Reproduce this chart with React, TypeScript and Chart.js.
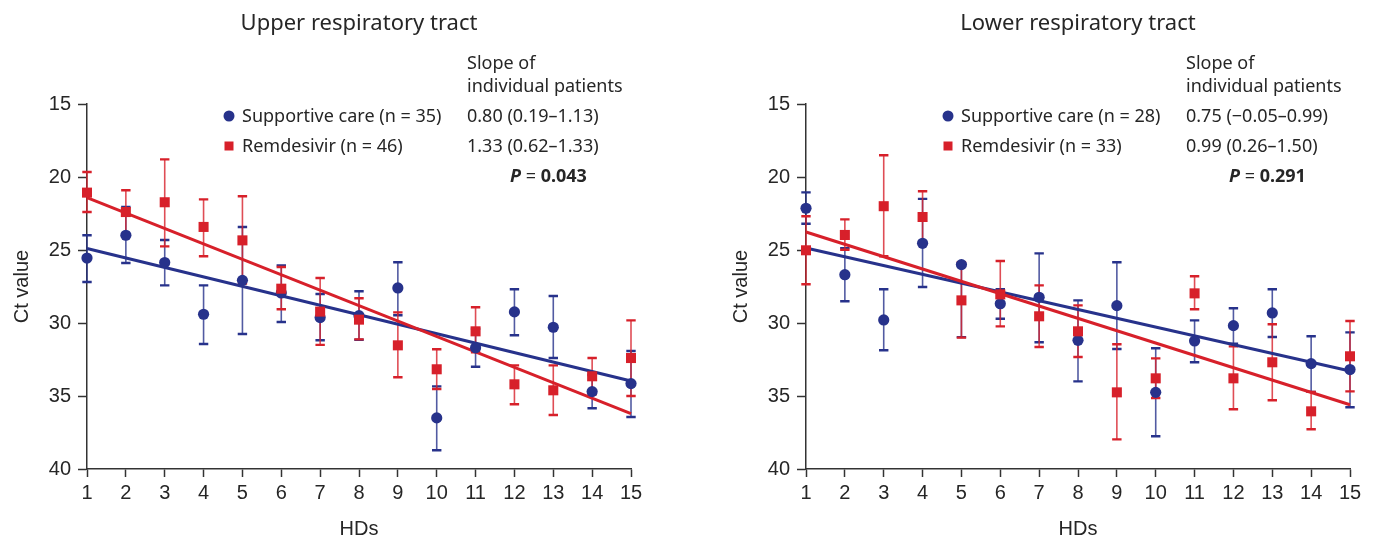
import React, { useEffect, useRef } from "react";
import { Chart, registerables } from "chart.js";

Chart.register(...registerables);

// ---------- data ----------
const HDS = [1, 2, 3, 4, 5, 6, 7, 8, 9, 10, 11, 12, 13, 14, 15];
const Y_MIN = 15;
const Y_MAX = 40;
const Y_STEP = 5;

// Upper respiratory tract – Supportive care (mean, top of bar, bottom of bar)
const upperCareMean = [25.55, 23.99, 25.86, 29.4, 27.08, 27.94, 29.63, 29.5, 27.6, 36.5, 31.7, 29.24, 30.29, 34.7, 34.15];
const upperCareTop = [23.99, 22.05, 24.31, 27.42, 23.42, 26.05, 28.01, 27.83, 25.84, 34.34, 30.4, 27.69, 28.15, 33.56, 31.92];
const upperCareBottom = [27.19, 25.89, 27.42, 31.44, 30.75, 29.93, 31.18, 31.15, 29.47, 38.72, 33.0, 30.84, 32.4, 35.84, 36.44];
const upperCareFit = [24.9, 33.97];

// Upper respiratory tract – Remdesivir
const upperRdvMean = [21.07, 22.4, 21.73, 23.42, 24.34, 27.65, 29.22, 29.77, 31.53, 33.17, 30.57, 34.2, 34.61, 33.65, 32.4];
const upperRdvTop = [19.66, 20.91, 18.79, 21.53, 21.32, 26.16, 26.92, 28.3, 29.27, 31.8, 28.92, 32.9, 32.9, 32.4, 29.82];
const upperRdvBottom = [22.4, 23.92, 24.75, 25.43, 27.3, 29.06, 31.5, 31.12, 33.72, 34.52, 32.0, 35.57, 36.3, 34.88, 35.0];
const upperRdvFit = [21.41, 36.2];

// Lower respiratory tract – Supportive care
const lowerCareMean = [22.14, 26.69, 29.79, 24.54, 26.0, 28.68, 28.24, 31.19, 28.81, 34.75, 31.23, 30.18, 29.31, 32.78, 33.19];
const lowerCareTop = [21.05, 24.87, 27.69, 21.5, 25.9, 27.69, 25.23, 28.45, 25.84, 31.73, 29.82, 28.99, 27.69, 30.91, 30.64];
const lowerCareBottom = [23.2, 28.51, 31.87, 27.53, 30.97, 29.71, 31.32, 34.0, 31.78, 37.76, 32.69, 31.41, 30.96, 34.72, 35.77];
const lowerCareFit = [24.86, 33.29];

// Lower respiratory tract – Remdesivir
const lowerRdvMean = [25.02, 23.97, 22.0, 22.74, 28.45, 28.04, 29.54, 30.57, 34.75, 33.79, 27.97, 33.79, 32.69, 36.05, 32.28];
const lowerRdvTop = [22.69, 22.9, 18.51, 20.98, 25.84, 25.75, 27.42, 28.79, 31.46, 32.42, 26.8, 31.6, 30.09, 34.72, 29.86];
const lowerRdvBottom = [27.35, 24.98, 25.43, 24.6, 31.0, 30.23, 31.64, 32.33, 37.97, 35.14, 29.06, 35.91, 35.29, 37.28, 34.68];
const lowerRdvFit = [23.77, 35.6];

// texts
const upperTitle = "Upper respiratory tract";
const lowerTitle = "Lower respiratory tract";
const slopeHeader = ["Slope of", "individual patients"];
const upperCareLabel = "Supportive care (n = 35)";
const upperRdvLabel = "Remdesivir (n = 46)";
const upperCareSlope = "0.80 (0.19\u20131.13)";
const upperRdvSlope = "1.33 (0.62\u20131.33)";
const upperP = "0.043";
const lowerCareLabel = "Supportive care (n = 28)";
const lowerRdvLabel = "Remdesivir (n = 33)";
const lowerCareSlope = "0.75 (\u22120.05\u20130.99)";
const lowerRdvSlope = "0.99 (0.26\u20131.50)";
const lowerP = "0.291";

// ---------- styles ----------
const BLUE = "#27328b";
const RED = "#d7202a";
const INK = "#262626";
const AXIS_FONT = "'Liberation Sans', Arial, sans-serif";
const TEXT_FONT = "'Noto Sans', 'Open Sans', sans-serif";
const CANVAS_W = 658;
const CANVAS_H = 540;

type Series = {
  mean: number[];
  top: number[];
  bottom: number[];
  fit: number[];
  label: string;
  slope: string;
};

type PanelProps = {
  left: number;
  title: string;
  care: Series;
  rdv: Series;
  p: string;
};

function Panel({ left, title, care, rdv, p }: PanelProps) {
  const ref = useRef<HTMLCanvasElement | null>(null);

  useEffect(() => {
    const canvas = ref.current;
    if (!canvas) return;

    const errorBars = {
      id: "errorBars",
      beforeDatasetsDraw(chart: any) {
        const { ctx } = chart;
        const xs = chart.scales.x;
        const ys = chart.scales.y;
        const drawSet = (s: Series, color: string) => {
          HDS.forEach((hd, i) => {
            const px = xs.getPixelForValue(hd);
            const yt = ys.getPixelForValue(s.top[i]);
            const yb = ys.getPixelForValue(s.bottom[i]);
            ctx.save();
            ctx.strokeStyle = color;
            ctx.globalAlpha = 0.8;
            ctx.lineWidth = 1.6;
            ctx.beginPath();
            ctx.moveTo(px, yt);
            ctx.lineTo(px, yb);
            ctx.stroke();
            ctx.globalAlpha = 1;
            ctx.lineWidth = 2.4;
            ctx.beginPath();
            ctx.moveTo(px - 4.7, yt);
            ctx.lineTo(px + 4.7, yt);
            ctx.moveTo(px - 4.7, yb);
            ctx.lineTo(px + 4.7, yb);
            ctx.stroke();
            ctx.restore();
          });
        };
        drawSet(care, BLUE);
        drawSet(rdv, RED);
      },
    };

    const annotations = {
      id: "annotations",
      afterDraw(chart: any) {
        const { ctx } = chart;
        const L = chart.chartArea.left;
        ctx.save();
        ctx.textBaseline = "alphabetic";
        ctx.fillStyle = INK;
        ctx.font = `22px ${TEXT_FONT}`;
        ctx.textAlign = "center";
        ctx.fillText(title, L + 272, 29.5);

        ctx.textAlign = "left";
        ctx.font = `18px ${TEXT_FONT}`;
        ctx.fillText(slopeHeader[0], L + 380, 68.5);
        ctx.fillText(slopeHeader[1], L + 380, 92);

        // legend markers
        ctx.fillStyle = BLUE;
        ctx.beginPath();
        ctx.arc(L + 142, 116, 5.5, 0, Math.PI * 2);
        ctx.fill();
        ctx.fillStyle = RED;
        ctx.fillRect(L + 142 - 4.5, 146 - 4.5, 9, 9);

        ctx.fillStyle = INK;
        ctx.fillText(care.label, L + 155, 122);
        ctx.fillText(rdv.label, L + 155, 152);
        ctx.fillText(care.slope, L + 380, 122);
        ctx.fillText(rdv.slope, L + 380, 152);

        // P value
        let x = L + 423;
        ctx.font = `italic bold 18px ${TEXT_FONT}`;
        ctx.fillText("P", x, 182);
        x += ctx.measureText("P").width;
        ctx.font = `18px ${TEXT_FONT}`;
        ctx.fillText(" = ", x, 182);
        x += ctx.measureText(" = ").width;
        ctx.font = `bold 18px ${TEXT_FONT}`;
        ctx.fillText(p, x, 182);
        ctx.restore();
      },
    };

    const points = (vals: number[]) => HDS.map((hd, i) => ({ x: hd, y: vals[i] }));
    const fitLine = (fit: number[]) => [
      { x: HDS[0], y: fit[0] },
      { x: HDS[HDS.length - 1], y: fit[1] },
    ];

    const chart = new Chart(canvas, {
      type: "scatter",
      data: {
        datasets: [
          {
            label: rdv.label,
            data: points(rdv.mean),
            pointStyle: "rect",
            pointRadius: 7.1,
            pointBackgroundColor: RED,
            pointBorderColor: RED,
            pointBorderWidth: 0,
            backgroundColor: RED,
            borderColor: RED,
            showLine: false,
            clip: false,
            order: 0,
          },
          {
            label: care.label,
            data: points(care.mean),
            pointStyle: "circle",
            pointRadius: 5.6,
            pointBackgroundColor: BLUE,
            pointBorderColor: BLUE,
            pointBorderWidth: 0,
            backgroundColor: BLUE,
            borderColor: BLUE,
            showLine: false,
            clip: false,
            order: 1,
          },
          {
            label: rdv.label + " fit",
            data: fitLine(rdv.fit),
            showLine: true,
            borderColor: RED,
            borderWidth: 3,
            pointRadius: 0,
            clip: false,
            order: 2,
          },
          {
            label: care.label + " fit",
            data: fitLine(care.fit),
            showLine: true,
            borderColor: BLUE,
            borderWidth: 3,
            pointRadius: 0,
            clip: false,
            order: 3,
          },
        ] as any,
      },
      options: {
        responsive: false,
        maintainAspectRatio: false,
        animation: false,
        devicePixelRatio: 1,
        layout: { padding: { top: 104, right: 27, bottom: 0, left: 0 } },
        plugins: {
          legend: { display: false },
          tooltip: { enabled: false },
          title: { display: false },
        },
        scales: {
          x: {
            type: "linear",
            position: "bottom",
            min: HDS[0],
            max: HDS[HDS.length - 1],
            ticks: {
              stepSize: 1,
              autoSkip: false,
              maxRotation: 0,
              padding: 4,
              color: INK,
              font: { family: AXIS_FONT, size: 20 },
            },
            grid: {
              display: true,
              drawOnChartArea: false,
              drawTicks: true,
              tickLength: 8,
              tickWidth: 1.5,
              tickColor: "#333",
            },
            border: { display: true, color: "#333", width: 1.5 },
            title: {
              display: true,
              text: "HDs",
              color: INK,
              font: { family: AXIS_FONT, size: 20, lineHeight: 1 },
              padding: { top: 0, bottom: 1 },
            },
            afterFit(scale: any) {
              scale.height = 71;
            },
          },
          y: {
            type: "linear",
            reverse: true,
            min: Y_MIN,
            max: Y_MAX,
            ticks: {
              stepSize: Y_STEP,
              padding: 7,
              color: INK,
              font: { family: AXIS_FONT, size: 20 },
            },
            grid: {
              display: true,
              drawOnChartArea: false,
              drawTicks: true,
              tickLength: 9,
              tickWidth: 1.5,
              tickColor: "#333",
            },
            border: { display: true, color: "#333", width: 1.5 },
            title: {
              display: true,
              text: "Ct value",
              color: INK,
              font: { family: AXIS_FONT, size: 20, lineHeight: 1.2 },
              padding: { top: 10, bottom: 0 },
            },
            afterFit(scale: any) {
              scale.width = 87;
            },
          },
        },
      } as any,
      plugins: [errorBars, annotations],
    });

    return () => chart.destroy();
  }, [title, care, rdv, p]);

  return (
    <canvas
      ref={ref}
      width={CANVAS_W}
      height={CANVAS_H}
      style={{ position: "absolute", left, top: 0, width: CANVAS_W, height: CANVAS_H, display: "block" }}
    />
  );
}

const upperCare: Series = { mean: upperCareMean, top: upperCareTop, bottom: upperCareBottom, fit: upperCareFit, label: upperCareLabel, slope: upperCareSlope };
const upperRdv: Series = { mean: upperRdvMean, top: upperRdvTop, bottom: upperRdvBottom, fit: upperRdvFit, label: upperRdvLabel, slope: upperRdvSlope };
const lowerCare: Series = { mean: lowerCareMean, top: lowerCareTop, bottom: lowerCareBottom, fit: lowerCareFit, label: lowerCareLabel, slope: lowerCareSlope };
const lowerRdv: Series = { mean: lowerRdvMean, top: lowerRdvTop, bottom: lowerRdvBottom, fit: lowerRdvFit, label: lowerRdvLabel, slope: lowerRdvSlope };

export default function App() {
  return (
    <div
      style={{
        position: "absolute",
        left: 0,
        top: 0,
        width: 1377,
        height: 540,
        overflow: "hidden",
        background: "#ffffff",
      }}
    >
      <Panel left={0} title={upperTitle} care={upperCare} rdv={upperRdv} p={upperP} />
      <Panel left={719} title={lowerTitle} care={lowerCare} rdv={lowerRdv} p={lowerP} />
    </div>
  );
}
